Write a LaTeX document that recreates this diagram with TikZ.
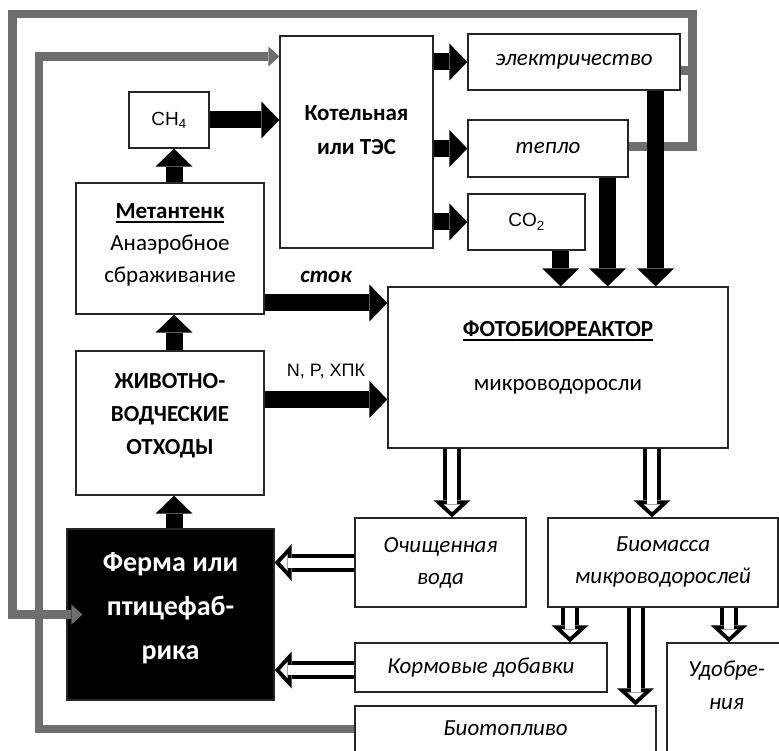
\documentclass[tikz,border=0pt]{standalone}
\usepackage{fontspec}
\setmainfont{Carlito}
\newfontfamily\arialfont{Liberation Sans}
\usetikzlibrary{arrows.meta}

\newcommand{\undl}[1]{\leavevmode\setbox0=\hbox{#1}\rlap{\rule[-4.5pt]{\wd0}{1.8pt}}\box0}

\tikzstyle{bx}=[shape=rectangle,
                draw=black!85,
                line width=1.3pt,
                inner sep=0pt,
                align=center,
                font=\fontsize{23}{32}\selectfont]
\tikzstyle{bxi}=[bx,
                font=\fontsize{23}{32}\selectfont\itshape]
\tikzstyle{txt}=[inner sep=0pt,
                align=center,
                font=\fontsize{23}{32}\selectfont]
\tikzstyle{fat}=[line width=17pt,
                -{Triangle[length=18pt,width=37pt,line width=0pt]}]
\tikzstyle{hol}=[line width=18pt,
                -{Triangle[length=17pt,width=37pt,line width=0pt]},
                postaction={draw,white,line width=10pt,shorten >=5.4pt,
                            -{Triangle[length=7.6pt,width=16.5pt,line width=0pt]}}]
\tikzstyle{fbl}=[draw=black!57,
                line width=8.5pt]
\tikzstyle{fb}=[fbl,
                -{Triangle[length=11pt,width=20pt,line width=0pt]}]

\begin{document}
\begin{tikzpicture}[x=1pt,y=-1pt]
\clip (0,0) rectangle (779,751);
\fill[white] (0,0) rectangle (779,751);

% gas, boiler and its outputs
\node[bx, minimum width=80pt, minimum height=56pt] (ch4) at (169,120)
     {\arialfont\fontsize{19}{20}\selectfont CH\textsubscript{4}};
\node[bx, minimum width=153pt, minimum height=212pt,
      label={[txt, yshift=12pt, font=\fontsize{23}{34}\selectfont\bfseries]center:Котельная\\или ТЭС}]
      (kotel) at (356.5,142) {};
\node[bxi, minimum width=212pt, minimum height=56pt] (elec) at (574,62) {электричество};
\node[bxi, minimum width=160pt, minimum height=57pt] (heat) at (548,148.5) {тепло};
\node[bx, minimum width=117pt, minimum height=56pt] (co2) at (526.5,222)
     {\arialfont\fontsize{19}{20}\selectfont CO\textsubscript{2}};

% left column
\node[bx, minimum width=188pt, minimum height=131pt,
      label={[txt, yshift=4pt]center:\undl{\textbf{Метантенк}}\\Анаэробное\\сбраживание}]
      (metan) at (170,248.5) {};
\node[bx, minimum width=188pt, minimum height=144pt,
      label={[txt, yshift=7pt, font=\fontsize{23}{33}\selectfont\bfseries]center:ЖИВОТНО-\\ВОДЧЕСКИЕ\\ОТХОДЫ}]
      (waste) at (170,423) {};
\node[bx, fill=black, minimum width=207pt, minimum height=171pt,
      label={[txt, yshift=6pt, text=white, font=\fontsize{28}{44}\selectfont\bfseries]center:Ферма или\\птицефаб-\\рика}]
      (farm) at (170.5,614.5) {};

% reactor
\node[bx, minimum width=340pt, minimum height=161pt,
      label={[txt, yshift=10pt]center:\undl{\textbf{ФОТОБИОРЕАКТОР}}\\[22pt]микроводоросли}]
      (pbr) at (558,367.5) {};

% products
\node[bxi, minimum width=171pt, minimum height=89pt] (water) at (440.5,562.5) {Очищенная\\вода};
\node[bxi, minimum width=230pt, minimum height=89pt] (bio) at (663,562.5) {Биомасса\\микроводорослей};
\node[bxi, minimum width=252pt, minimum height=49pt] (feed) at (481,667.5) {Кормовые добавки};
\node[bxi, minimum width=123pt, minimum height=127pt,
      label={[txt, xshift=-2pt, yshift=21pt, font=\fontsize{23}{33}\selectfont\itshape]center:Удобре-\\ния}]
      (fert) at (728.5,706.5) {};
\node[bxi, minimum width=301pt, minimum height=64pt,
      label={[txt, yshift=9.5pt, font=\fontsize{23}{32}\selectfont\itshape]center:Биотопливо}]
      (fuel) at (505.5,738) {};

% feedback lines
\coordinate (lane1) at (692.5,14);
\coordinate (lane2) at (12.5,14);
\coordinate (lane3) at (39,56.5);
\draw[fb] ([yshift=2pt]heat.east) -| (lane1) -- (lane2) |- ([xshift=16pt]farm.west);
\draw[fbl] ([yshift=-8.5pt]elec.east) -- ([yshift=-8.5pt]elec.east -| lane1);
\draw[fb] ([yshift=9pt]fuel.west) -| (lane3) -- (kotel.west |- lane3);

% black flows
\draw[fat] (ch4.east) -- (kotel.west |- ch4.east);
\draw[fat] ([xshift=5pt]ch4.south |- metan.north) -- ([xshift=5pt]ch4.south);
\draw[fat] (kotel.east |- elec.west) -- (elec.west);
\draw[fat] (kotel.east |- heat.west) -- (heat.west);
\draw[fat] (kotel.east |- co2.west) -- (co2.west);
\draw[fat] ([xshift=-25pt]elec.south east) -- ([xshift=-25pt]elec.south east |- pbr.north);
\draw[fat] ([xshift=-21pt]heat.south east) -- ([xshift=-21pt]heat.south east |- pbr.north);
\draw[fat] ([xshift=-25pt]co2.south east) -- ([xshift=-25pt]co2.south east |- pbr.north);
\draw[fat] ([yshift=-54.5pt]metan.east) -- ([yshift=-54.5pt]metan.east -| pbr.west)
      node[midway, above=12pt, txt, font=\fontsize{23}{32}\selectfont\bfseries\itshape] {сток};
\draw[fat] ([yshift=23.5pt]waste.east) -- ([yshift=23.5pt]waste.east -| pbr.west)
      node[midway, above=12pt, txt, font=\arialfont\fontsize{18}{20}\selectfont] {N, P, ХПК};
\draw[fat] ([xshift=4pt]waste.north) -- ([xshift=4pt]metan.south);
\draw[fat] ([xshift=4pt]waste.south |- farm.north) -- ([xshift=4pt]waste.south);

% hollow flows
\draw[hol] ([xshift=11.5pt]water.north |- pbr.south) -- ([xshift=11.5pt]water.north);
\draw[hol] ([xshift=-11pt]bio.north |- pbr.south) -- ([xshift=-11pt]bio.north);
\draw[hol] (water.west) -- (water.west -| farm.east);
\draw[hol] ([yshift=-2.5pt]feed.west) -- ([yshift=-2.5pt]feed.west -| farm.east);
\draw[hol] ([xshift=-93pt]bio.south) -- ([xshift=-93pt]bio.south |- feed.north);
\draw[hol] ([xshift=-27.5pt]bio.south) -- ([xshift=-27.5pt]bio.south |- fuel.north);
\draw[hol] ([xshift=66pt]bio.south) -- ([xshift=66pt]bio.south |- fert.north);
\end{tikzpicture}
\end{document}
